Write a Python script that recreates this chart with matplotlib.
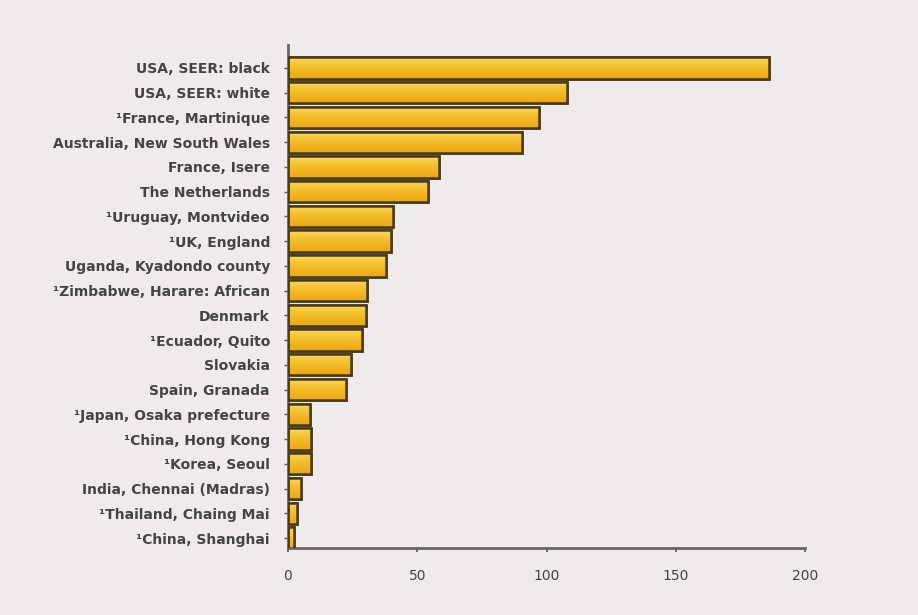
import matplotlib
matplotlib.use("Agg")
import matplotlib.pyplot as plt
import numpy as np

# data, top to bottom as in the reference
labels = [
    "USA, SEER: black",
    "USA, SEER: white",
    "\u00b9France, Martinique",
    "Australia, New South Wales",
    "France, Isere",
    "The Netherlands",
    "\u00b9Uruguay, Montvideo",
    "\u00b9UK, England",
    "Uganda, Kyadondo county",
    "\u00b9Zimbabwe, Harare: African",
    "Denmark",
    "\u00b9Ecuador, Quito",
    "Slovakia",
    "Spain, Granada",
    "\u00b9Japan, Osaka prefecture",
    "\u00b9China, Hong Kong",
    "\u00b9Korea, Seoul",
    "India, Chennai (Madras)",
    "\u00b9Thailand, Chaing Mai",
    "\u00b9China, Shanghai",
]
values = [186, 108, 97, 90.5, 58.5, 54, 40.5, 40, 38, 30.5,
          30, 28.5, 24.5, 22.5, 8.5, 9, 9, 5, 3.5, 2.5]
xticks = [0, 50, 100, 150, 200]

BG = "#efeaec"
EDGE = "#4a3a18"
TEXT = "#444444"

fig = plt.figure(figsize=(9.18, 6.15), dpi=100, facecolor=BG)
ax = fig.add_axes([0.3137, 0.109, 0.5633, 0.818])
ax.set_facecolor(BG)

y = np.arange(len(labels))
bars = ax.barh(y, values, height=0.86, color="#f3bd2c", edgecolor=EDGE,
               linewidth=1.8, zorder=2)

# vertical gradient inside each bar (light top -> golden -> darker bottom)
grad = np.linspace(0, 1, 64).reshape(-1, 1)
cmap = matplotlib.colors.LinearSegmentedColormap.from_list(
    "gold", ["#f9dc6a", "#f5c536", "#f0b522", "#e8a81a"])
for b in bars:
    x0, y0 = b.get_x(), b.get_y()
    w, h = b.get_width(), b.get_height()
    im = ax.imshow(grad, cmap=cmap, aspect="auto", extent=[x0, x0 + w, y0 + h, y0],
                   zorder=2.5, interpolation="bilinear")
    im.set_clip_path(b)
    ax.add_patch(plt.Rectangle((x0, y0), w, h, fill=False, edgecolor=EDGE,
                               linewidth=1.8, zorder=3))

ax.set_xlim(0, 200)
ax.set_ylim(19.4, -0.93)
ax.set_yticks(y)
ax.set_yticklabels(labels, fontsize=10, fontweight="bold", color=TEXT)
ax.set_xticks(xticks)
ax.set_xticklabels([str(t) for t in xticks], fontsize=10, color=TEXT)

for side in ["top", "right"]:
    ax.spines[side].set_visible(False)
for side in ["left", "bottom"]:
    ax.spines[side].set_color("#666666")
    ax.spines[side].set_linewidth(2)
ax.tick_params(axis="y", length=3, width=1, color="#555555", pad=10)
ax.tick_params(axis="x", length=3, width=1.2, color="#555555", pad=12)

fig.savefig("out.png", dpi=100, facecolor=BG)
